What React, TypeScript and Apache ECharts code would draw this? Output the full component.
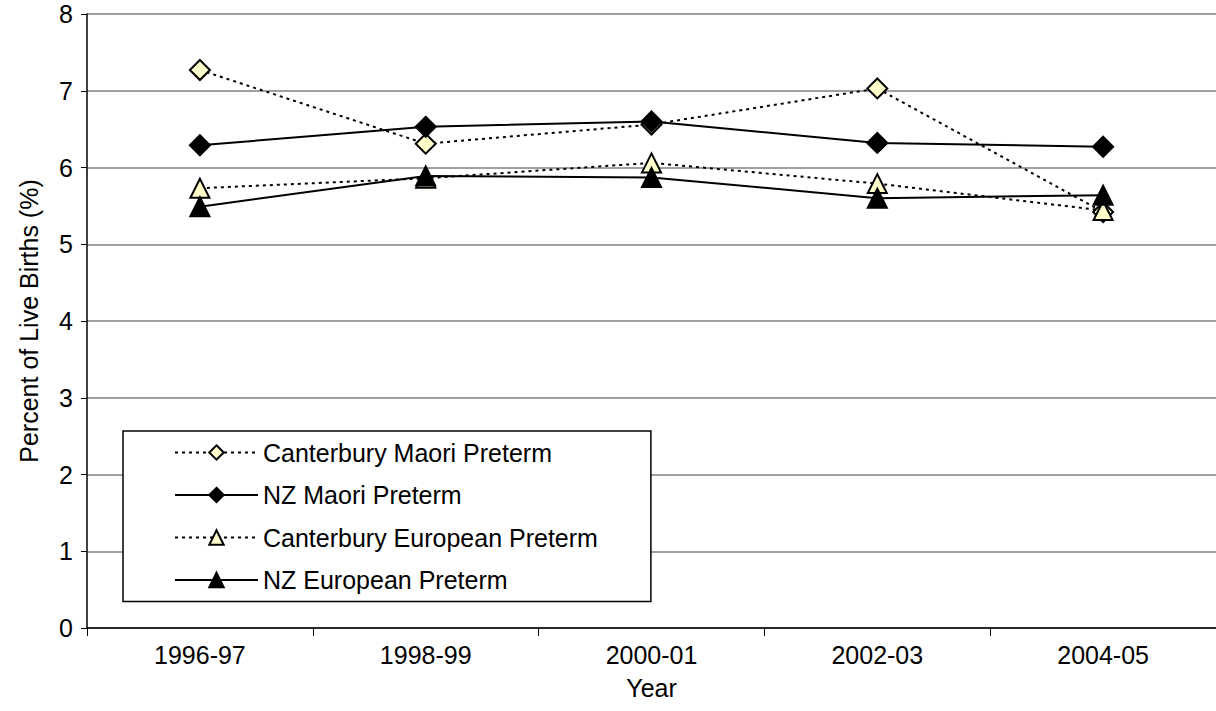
import React, { useEffect, useRef } from "react";
import * as echarts from "echarts";

// Two-year periods on the category axis
const years = ["1996-97", "1998-99", "2000-01", "2002-03", "2004-05"];

// Preterm births as percent of live births
const canterburyMaori = [7.27, 6.31, 6.56, 7.03, 5.42];
const nzMaori = [6.29, 6.53, 6.6, 6.32, 6.27];
const canterburyEuropean = [5.73, 5.86, 6.06, 5.79, 5.44];
const nzEuropean = [5.49, 5.89, 5.87, 5.6, 5.64];

const yTicks = { min: 0, max: 8, interval: 1 };

const FONT = "'Liberation Sans', Arial, sans-serif";
const FS = 25;
const PALE = "#FFFFCC";

export default function App() {
  const ref = useRef<HTMLDivElement>(null);

  useEffect(() => {
    if (!ref.current) return;
    const chart = echarts.init(ref.current, undefined, { renderer: "svg" });

    const dotted = { color: "#000", width: 2, type: [3, 4] as number[] };
    const solid = { color: "#000", width: 2, type: "solid" as const };

    const mk = (
      name: string,
      data: number[],
      symbol: string,
      fill: string,
      line: any,
      size: number
    ) => ({
      name,
      type: "line",
      data,
      symbol,
      symbolSize: size,
      showAllSymbol: true,
      lineStyle: line,
      itemStyle: { color: fill, borderColor: "#000", borderWidth: 2 },
      emphasis: { disabled: true },
    });

    chart.setOption({
      animation: false,
      textStyle: { fontFamily: FONT },
      grid: { left: 87, right: 0, top: 14, bottom: 83 },
      xAxis: {
        type: "category",
        data: years,
        boundaryGap: true,
        name: "Year",
        nameLocation: "middle",
        nameGap: 47,
        nameTextStyle: { fontSize: FS, color: "#000", fontFamily: FONT },
        axisLine: { lineStyle: { color: "#000", width: 1.5 } },
        axisTick: { show: true, length: 8, interval: 0, lineStyle: { color: "#000" } },
        axisLabel: { fontSize: FS, color: "#000", margin: 14, fontFamily: FONT },
        splitLine: { show: false },
      },
      yAxis: {
        type: "value",
        ...yTicks,
        name: "Percent of Live Births (%)",
        nameLocation: "middle",
        nameRotate: 90,
        nameGap: 46,
        nameTextStyle: { fontSize: FS, color: "#000", fontFamily: FONT },
        axisLine: { show: true, lineStyle: { color: "#000", width: 1.5 } },
        axisTick: { show: true, length: 6, lineStyle: { color: "#000" } },
        axisLabel: { fontSize: FS, color: "#000", margin: 14, fontFamily: FONT },
        splitLine: { show: true, lineStyle: { color: "#808080", width: 1.5 } },
      },
      legend: {
        orient: "vertical",
        left: 123,
        top: 431,
        padding: [9, 53, 9, 51],
        itemGap: 17.5,
        itemWidth: 83,
        itemHeight: 18,
        backgroundColor: "#fff",
        borderColor: "#000",
        borderWidth: 1.5,
        borderRadius: 0,
        textStyle: { fontSize: FS, color: "#000", fontFamily: FONT },
        data: [
          "Canterbury Maori Preterm",
          "NZ Maori Preterm",
          "Canterbury European Preterm",
          "NZ European Preterm",
        ],
      },
      series: [
        mk("Canterbury Maori Preterm", canterburyMaori, "diamond", PALE, dotted, 20),
        mk("NZ Maori Preterm", nzMaori, "diamond", "#000", solid, 20),
        mk("Canterbury European Preterm", canterburyEuropean, "triangle", PALE, dotted, 19),
        mk("NZ European Preterm", nzEuropean, "triangle", "#000", solid, 19),
      ],
    });

    return () => chart.dispose();
  }, []);

  return (
    <div
      ref={ref}
      style={{ position: "fixed", left: 0, top: 0, width: 1216, height: 711, background: "#fff" }}
    />
  );
}
